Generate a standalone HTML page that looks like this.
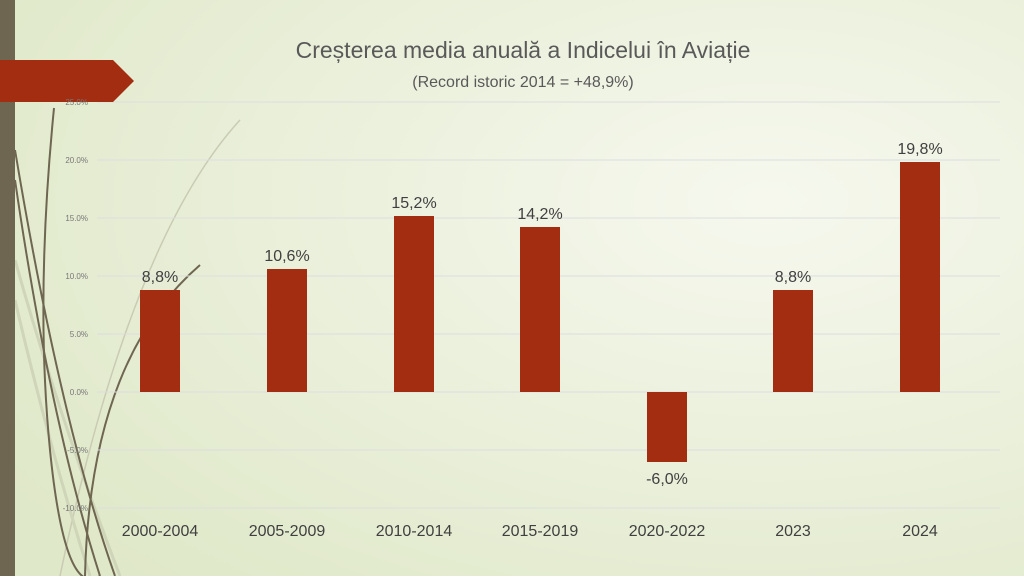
<!DOCTYPE html>
<html><head><meta charset="utf-8"><style>
body{margin:0;width:1024px;height:576px;overflow:hidden;font-family:"Liberation Sans",sans-serif}
</style></head><body>
<svg width="1024" height="576" xmlns="http://www.w3.org/2000/svg">
<defs><radialGradient id="g" cx="0.75" cy="0.35" r="0.9"><stop offset="0" stop-color="#f6f8ee"/><stop offset="1" stop-color="#dfe8c8"/></radialGradient></defs>
<rect width="1024" height="576" fill="url(#g)"/>
<g fill="none" stroke-width="2">
<path d="M240 120 Q130 240 60 576" stroke="#c9ccb3" stroke-width="1.5"/>
<path d="M15 260 Q60 420 120 576" stroke="#cfd5b8" stroke-width="3"/>
<path d="M15 300 Q50 450 90 576" stroke="#cfd5b8" stroke-width="3"/>
<path d="M15 150 Q60 420 115 576" stroke="#6e6650"/>
<path d="M54 108 Q35 300 50 450 T100 576" stroke="#6e6650"/>
<path d="M15 180 Q50 420 100 576" stroke="#6e6650"/>
<path d="M200 265 Q90 360 85 576" stroke="#6e6650"/>
</g>
<rect x="0" y="0" width="15" height="576" fill="#6e6650"/>
<g stroke="#dcdde0" stroke-width="1">
<line x1="97" y1="102" x2="1000" y2="102"/><line x1="97" y1="160" x2="1000" y2="160"/><line x1="97" y1="218" x2="1000" y2="218"/><line x1="97" y1="276" x2="1000" y2="276"/><line x1="97" y1="334" x2="1000" y2="334"/><line x1="97" y1="392" x2="1000" y2="392"/><line x1="97" y1="450" x2="1000" y2="450"/><line x1="97" y1="508" x2="1000" y2="508"/>
</g>
<path d="M0 60 H113 L134 81 L113 102 H0Z" fill="#a22d10"/>
<g font-size="8" fill="#777" text-anchor="end">
<text x="88" y="105">25.0%</text><text x="88" y="163">20.0%</text><text x="88" y="221">15.0%</text><text x="88" y="279">10.0%</text><text x="88" y="337">5.0%</text><text x="88" y="395">0.0%</text><text x="88" y="453">-5.0%</text><text x="88" y="511">-10.0%</text>
</g>
<g fill="#a22d10">
<rect x="140" y="290" width="40" height="102"/>
<rect x="267" y="269" width="40" height="123"/>
<rect x="394" y="216" width="40" height="176"/>
<rect x="520" y="227" width="40" height="165"/>
<rect x="647" y="392" width="40" height="70"/>
<rect x="773" y="290" width="40" height="102"/>
<rect x="900" y="162" width="40" height="230"/>
</g>
<g font-size="16" fill="#404040" text-anchor="middle">
<text x="160" y="282">8,8%</text><text x="287" y="261">10,6%</text><text x="414" y="208">15,2%</text><text x="540" y="219">14,2%</text><text x="667" y="484">-6,0%</text><text x="793" y="282">8,8%</text><text x="920" y="154">19,8%</text>
<text x="160" y="536">2000-2004</text><text x="287" y="536">2005-2009</text><text x="414" y="536">2010-2014</text><text x="540" y="536">2015-2019</text><text x="667" y="536">2020-2022</text><text x="793" y="536">2023</text><text x="920" y="536">2024</text>
</g>
<text x="523" y="58" font-size="23" fill="#595959" text-anchor="middle">Creșterea media anuală a Indicelui în Aviație</text>
<text x="523" y="87" font-size="16" fill="#595959" text-anchor="middle">(Record istoric 2014 = +48,9%)</text>
</svg>
</body></html>
